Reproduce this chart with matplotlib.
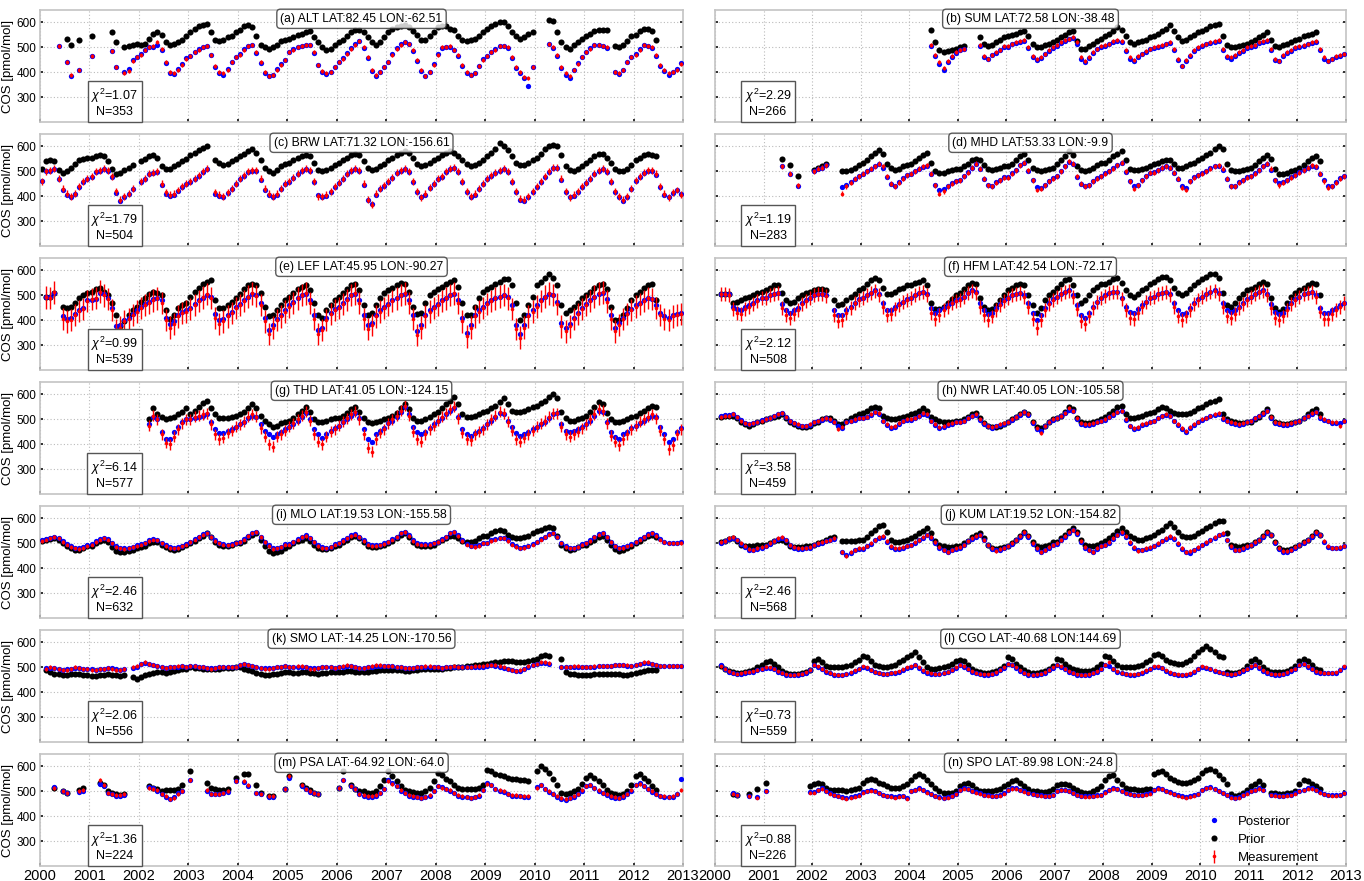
import numpy as np
import matplotlib.pyplot as plt

plt.rcParams['font.family'] = ['Liberation Sans', 'DejaVu Sans']
plt.rcParams['mathtext.fontset'] = 'custom'
plt.rcParams['mathtext.rm'] = 'Liberation Sans'
plt.rcParams['mathtext.it'] = 'Liberation Sans:italic'

nan = np.nan
# monthly time axis, 2000-01 .. 2012-12
months = 2000 + (np.arange(156) + 0.5) / 12
E6 = [nan] * 6
E12 = [nan] * 12

# ---------------- (a) ALT ----------------
ALT_meas = [
    nan, nan, nan, nan, 505, nan, 440, 390, nan, 410, nan, nan,
    465, nan, nan, nan, nan, 485, 420, nan, 395, 405, 445, 460,
    470, 490, 500, 505, 520, 495, 440, 400, 395, 410, 430, 455,
    465, 480, 490, 500, 505, 470, 425, 400, 395, 410, 440, 460,
    470, 490, 505, 510, 480, 440, 400, 385, 390, 410, 430, 450,
    480, 490, 500, 505, 510, 510, 480, 430, 405, 395, 400, 420,
    440, 455, 475, 495, 510, 525, 500, 460, 410, 390, 400, 420,
    440, 470, 495, 510, 520, 515, 490, 450, 410, 385, 400, 430,
    470, 500, 500, 505, 490, 470, 430, 400, 390, 395, 425, 450,
    465, 480, 490, 505, 505, 500, 460, 420, 400, 380, 375, 420,
    nan, nan, nan, 515, 500, 470, 420, 395, 385, 410, 435, 460,
    480, 495, 510, 510, 505, 500, nan, 400, 395, 410, 440, 460,
    470, 490, 510, 505, 500, 470, 430, 410, 395, 400, 410, 435]
ALT_post = [
    nan, nan, nan, nan, 505, nan, 440, 383, nan, 410, nan, nan,
    465, nan, nan, nan, nan, 485, 420, nan, 400, 412, 448, 460,
    472, 488, 500, 503, 510, 490, 438, 398, 393, 412, 432, 457,
    466, 482, 492, 502, 506, 468, 420, 395, 390, 412, 442, 462,
    472, 492, 506, 510, 478, 436, 396, 383, 388, 412, 432, 450,
    482, 492, 502, 505, 510, 508, 476, 428, 400, 392, 400, 422,
    442, 457, 477, 497, 512, 524, 498, 456, 406, 386, 402, 422,
    442, 472, 497, 512, 522, 514, 486, 446, 406, 383, 402, 432,
    472, 498, 500, 503, 488, 466, 426, 396, 388, 395, 427, 452,
    467, 482, 492, 505, 505, 498, 456, 416, 396, 378, 345, 422,
    nan, nan, nan, 513, 498, 466, 416, 390, 378, 410, 437, 460,
    482, 497, 510, 510, 505, 498, nan, 400, 393, 410, 442, 460,
    472, 492, 510, 505, 498, 466, 426, 406, 390, 400, 412, 437]
ALT_prior = [
    nan, nan, nan, nan, nan, nan, 535, 510, nan, 530, nan, nan,
    545, nan, nan, nan, nan, 560, 520, nan, 500, 505, 510, 515,
    510, 515, 535, 555, 560, 550, 520, 510, 515, 520, 530, 545,
    560, 575, 585, 590, 595, 560, 530, 525, 530, 540, 545, 560,
    570, 585, 590, 580, 545, 510, 500, 495, 500, 510, 525, 530,
    535, 540, 550, 555, 560, 565, 540, 520, 500, 490, 495, 510,
    520, 530, 545, 560, 570, 570, 560, 540, 520, 510, 520, 540,
    560, 575, 580, 585, 590, 580, 565, 550, 530, 530, 545, 560,
    580, 585, 585, 575, 570, 545, 530, 525, 530, 535, 545, 560,
    575, 585, 595, 600, 600, 585, 560, 545, 535, 540, 555, 560,
    nan, nan, nan, 610, 605, 560, 520, 500, 495, 510, 520, 535,
    545, 555, 565, 570, 570, 570, nan, 505, 500, 510, 525, 545,
    550, 565, 575, 575, 565, 530] + E6

# ---------------- (b) SUM ----------------
SUM_meas = E12 * 4 + [
    nan, nan, nan, nan, nan, 510, 470, 440, 415, 445, 465, 480,
    490, 495, nan, nan, nan, 510, 465, 455, 470, 480, 490, 505,
    505, 515, 520, 525, 530, 500, 465, 455, 460, 475, 490, 500,
    510, 520, 530, 535, 540, 520, 460, 445, 460, 480, 495, 505,
    510, 515, 525, 530, 525, 490, 460, 450, 465, 475, 485, 495,
    500, 505, 510, 515, 520, 495, 455, 425, 450, 470, 490, 500,
    510, 515, 520, 525, 530, 495, 465, 460, 470, 480, 490, 500,
    505, 510, 520, 525, 530, 495, 455, 445, 470, 480, 490, 500,
    505, 510, 515, 520, 525, 495, 460, 445, 455, 465, 470, 475]
SUM_post = E12 * 4 + [
    nan, nan, nan, nan, nan, 505, 465, 435, 410, 440, 462, 478,
    488, 493, nan, nan, nan, 506, 460, 452, 468, 478, 488, 502,
    503, 512, 517, 522, 527, 496, 460, 450, 456, 472, 487, 498,
    507, 517, 527, 532, 536, 515, 455, 440, 456, 477, 492, 502,
    507, 512, 522, 527, 522, 486, 455, 446, 462, 472, 482, 492,
    497, 502, 507, 512, 517, 490, 450, 425, 446, 467, 487, 497,
    507, 512, 517, 522, 527, 490, 460, 455, 466, 477, 487, 497,
    502, 507, 517, 522, 527, 490, 450, 446, 466, 477, 487, 497,
    502, 507, 512, 517, 522, 490, 455, 446, 452, 462, 467, 472]
SUM_prior = E12 * 4 + [
    nan, nan, nan, nan, nan, 570, 520, 490, 480, 485, 490, 495,
    500, 505, nan, nan, nan, 540, 515, 505, 510, 520, 530, 540,
    545, 550, 555, 560, 565, 545, 515, 500, 500, 510, 515, 520,
    530, 540, 550, 560, 565, 525, 495, 495, 505, 515, 525, 535,
    545, 555, 565, 580, 570, 545, 520, 515, 520, 525, 530, 540,
    545, 555, 565, 575, 590, 565, 540, 525, 530, 540, 550, 560,
    565, 575, 585, 590, 595, 545, 510, 500, 500, 505, 510, 515,
    520, 530, 540, 550, 560, 530, 505, 500, 510, 515, 520, 530,
    535, 545, 550, 555, 560] + [nan] * 7

# ---------------- (c) BRW ----------------
BRW_meas = [
    460, 500, 505, 510, 470, 430, 410, 400, 410, 440, 460, 470,
    480, 500, 505, 510, 505, 480, 420, 385, 400, 410, 430, nan,
    460, 470, 490, 495, 500, 450, 415, 405, 410, 425, 440, 450,
    460, 470, 485, 500, 510, nan, 415, 405, 400, 415, 430, 450,
    470, 485, 500, 505, 505, 470, 430, 410, 400, 410, 430, 450,
    460, 475, 490, 505, 510, 505, 460, 400, 400, 405, 420, 440,
    455, 470, 490, 505, 510, 505, 450, 385, 365, 410, 430, 445,
    460, 475, 495, 505, 510, 500, 460, 420, 395, 410, 435, 450,
    470, 480, 500, 510, 515, 500, 460, 420, 400, 410, 430, 450,
    470, 485, 495, 505, 510, 500, 460, 420, 390, 385, 400, 420,
    440, 460, 480, 500, 515, 515, 470, 420, 395, 405, 420, 440,
    455, 470, 490, 505, 510, 500, 460, 420, 400, 385, 400, 430,
    465, 480, 495, 505, 505, 490, 440, 410, 395, 415, 425, 405]
BRW_post = [
    460, 500, 503, 508, 468, 426, 406, 395, 408, 438, 458, 468,
    478, 498, 503, 508, 503, 476, 414, 380, 396, 408, 428, nan,
    458, 468, 488, 493, 498, 446, 410, 400, 406, 422, 438, 448,
    458, 468, 483, 498, 508, nan, 410, 400, 395, 412, 428, 448,
    468, 483, 498, 503, 503, 466, 426, 405, 395, 406, 428, 448,
    458, 473, 488, 503, 508, 502, 456, 405, 395, 400, 418, 438,
    453, 468, 488, 503, 508, 502, 446, 385, 370, 406, 428, 443,
    458, 473, 493, 503, 508, 497, 456, 415, 395, 406, 433, 448,
    468, 478, 498, 508, 513, 497, 456, 415, 395, 406, 428, 448,
    468, 483, 493, 503, 508, 497, 456, 415, 385, 380, 398, 418,
    438, 458, 478, 498, 513, 512, 466, 415, 395, 400, 418, 438,
    453, 468, 488, 503, 508, 497, 456, 415, 395, 380, 398, 428,
    463, 478, 493, 503, 503, 487, 436, 405, 395, 412, 423, 408]
BRW_prior = [
    510, 540, 545, 540, 505, 495, 500, 515, 530, 545, 550, 555,
    555, 560, 565, 560, 540, 510, 490, 495, 505, 515, 525, nan,
    540, 550, 560, 565, 555, 520, 510, 510, 520, 530, 540, 550,
    565, 575, 585, 595, 600, nan, 545, 535, 525, 530, 540, 550,
    560, 570, 580, 590, 575, 545, 515, 500, 495, 505, 520, 530,
    535, 545, 555, 560, 565, 560, 535, 505, 500, 505, 515, 525,
    535, 545, 555, 565, 570, 565, 540, 515, 505, 510, 520, 530,
    545, 555, 565, 575, 580, 575, 555, 530, 520, 525, 535, 545,
    555, 565, 575, 580, 575, 560, 545, 530, 520, 525, 535, 545,
    560, 575, 590, 615, 600, 585, 560, 535, 525, 525, 535, 545,
    555, 570, 590, 600, 605, 600, 565, 520, 505, 500, 510, 520,
    535, 545, 560, 570, 570, 555, 535, 510, 500, 500, 510, 525,
    545, 555, 565, 570, 565, 560] + E6

# ---------------- (d) MHD ----------------
MHD_meas = E12 + [
    nan, nan, nan, nan, 520, nan, 490, nan, 445, nan, nan, nan,
    500, 510, 515, 525, nan, nan, nan, 410, 440, 455, 470, 480,
    490, 500, 510, 520, 530, 520, 480, 450, 440, 455, 470, 485,
    490, 500, 510, 520, 525, 490, 445, 410, 420, 440, 450, 460,
    465, 480, 495, 515, 530, 510, 470, 445, 440, 455, 465, 475,
    475, 490, 505, 525, 535, 505, 465, 425, 430, 445, 460, 470,
    480, 500, 520, 540, 530, 480, 450, 440, 445, 460, 470, 480,
    490, 500, 510, 525, 535, 500, 460, 430, 445, 465, 480, 495,
    495, 505, 515, 520, 515, 495, 470, 435, 425, 460, 475, 485,
    490, 500, 510, 520, 525, 510, 470, 440, 440, 455, 465, 475,
    480, 490, 505, 520, 530, 510, 465, 445, 455, 465, 475, 485,
    495, 505, 515, 525, 520, 490, 460, 435, 440, 455, 470, 480]
MHD_post = E12 + [
    nan, nan, nan, nan, 523, nan, 488, nan, 442, nan, nan, nan,
    502, 510, 513, 525, nan, nan, nan, 437, 444, 456, 470, 480,
    490, 500, 510, 520, 528, 515, 478, 450, 442, 457, 472, 485,
    490, 500, 510, 518, 523, 488, 447, 425, 428, 442, 452, 462,
    467, 482, 497, 515, 528, 508, 468, 445, 442, 457, 467, 477,
    477, 492, 507, 525, 533, 502, 465, 438, 434, 447, 462, 472,
    482, 502, 520, 538, 528, 478, 450, 442, 447, 462, 472, 482,
    492, 502, 512, 525, 532, 497, 460, 443, 447, 467, 482, 495,
    497, 507, 515, 520, 515, 493, 468, 443, 435, 462, 477, 487,
    492, 502, 512, 520, 523, 507, 468, 442, 442, 457, 467, 477,
    482, 492, 507, 520, 528, 507, 465, 452, 457, 467, 477, 487,
    497, 507, 515, 523, 518, 488, 465, 443, 443, 457, 472, 482]
MHD_prior = E12 + [
    nan, nan, nan, nan, 550, nan, 525, nan, 480, nan, nan, nan,
    505, 515, 520, 530, nan, nan, nan, 500, 500, 505, 515, 525,
    535, 545, 560, 575, 585, 570, 530, 515, 505, 510, 520, 525,
    530, 540, 555, 565, 575, 535, 500, 495, 495, 500, 505, 510,
    510, 520, 530, 545, 550, 545, 525, 510, 505, 510, 515, 520,
    520, 530, 545, 560, 570, 545, 515, 505, 500, 505, 510, 515,
    530, 545, 560, 580, 565, 520, 505, 500, 505, 515, 525, 535,
    535, 545, 560, 570, 580, 545, 510, 505, 505, 510, 515, 520,
    530, 535, 540, 545, 545, 530, 515, 515, 520, 530, 535, 545,
    555, 565, 575, 590, 600, 590, 530, 505, 500, 500, 505, 510,
    515, 525, 540, 555, 565, 550, 510, 490, 490, 495, 500, 505,
    515, 525, 540, 555, 560, 540] + E6

# ---------------- (e) LEF ----------------
LEF_meas = [
    nan, 492, 490, 512, nan, 405, 395, 400, 420, 438, 445, 478,
    485, 490, 515, 500, 485, 440, 360, 370, 395, 405, 420, 435,
    450, 460, 470, 480, 488, 470, 400, 370, 385, 415, 430, 435,
    445, 460, 478, 492, 505, 490, 410, 385, 395, 415, 430, 450,
    460, 478, 495, 508, 498, 460, 395, 345, 370, 400, 415, 435,
    455, 470, 488, 502, 508, 470, 405, 345, 360, 400, 425, 440,
    450, 465, 482, 502, 508, 470, 405, 365, 380, 415, 435, 450,
    460, 478, 488, 502, 508, 470, 405, 340, 370, 415, 435, 450,
    460, 478, 488, 502, 508, 470, 395, 335, 370, 415, 435, 450,
    465, 478, 488, 495, 502, 488, 445, 365, 330, 370, 415, 435,
    455, 478, 495, 508, 502, 465, 375, 355, 375, 405, 425, 445,
    460, 478, 495, 508, 512, 475, 405, 355, 380, 405, 425, 440,
    455, 465, 478, 490, 485, 450, 420, 405, 400, 415, 420, 425]
LEF_post = [
    nan, 495, 495, 510, nan, 415, 405, 410, 425, 440, 450, 480,
    480, 485, 510, 505, 490, 450, 375, 380, 400, 410, 425, 440,
    455, 465, 475, 485, 490, 480, 410, 385, 395, 420, 435, 440,
    450, 465, 480, 490, 500, 495, 425, 400, 405, 420, 435, 455,
    465, 480, 495, 505, 500, 470, 410, 360, 380, 405, 420, 440,
    460, 475, 490, 500, 505, 480, 420, 360, 370, 410, 430, 445,
    455, 470, 485, 500, 505, 480, 420, 380, 390, 420, 440, 455,
    465, 480, 490, 500, 505, 480, 420, 355, 380, 420, 440, 455,
    465, 480, 490, 500, 505, 480, 410, 350, 380, 420, 440, 455,
    470, 480, 490, 495, 500, 495, 460, 380, 345, 380, 420, 440,
    460, 480, 495, 505, 500, 475, 390, 370, 385, 410, 430, 450,
    465, 480, 495, 505, 510, 485, 420, 370, 390, 410, 430, 445,
    460, 470, 480, 490, 485, 460, 430, 415, 410, 420, 425, 430]
LEF_prior = [
    nan, 495, 495, 510, nan, 455, 450, 455, 470, 490, 500, 510,
    515, 525, 530, 515, 500, 470, 420, 375, 395, 420, 440, 455,
    475, 490, 505, 515, 510, 500, 440, 405, 420, 450, 460, 470,
    495, 515, 530, 545, 555, 560, 480, 450, 450, 460, 475, 490,
    505, 525, 540, 545, 540, 510, 455, 415, 420, 440, 460, 480,
    495, 510, 525, 535, 540, 520, 470, 420, 410, 440, 460, 480,
    495, 510, 525, 540, 545, 520, 460, 420, 430, 460, 490, 510,
    520, 530, 540, 550, 545, 515, 455, 425, 430, 470, 500, 515,
    525, 535, 545, 555, 560, 535, 470, 420, 420, 455, 490, 515,
    525, 535, 545, 555, 565, 565, 540, 470, 400, 420, 460, 495,
    540, 555, 570, 585, 570, 540, 460, 430, 440, 455, 470, 490,
    500, 515, 530, 540, 545, 525, 455, 400, 400, 420, 450, 480,
    500, 515, 530, 540, 545, 480] + E6

# ---------------- (f) HFM ----------------
HFM_meas = [
    nan, 505, 505, 500, 445, 430, 425, 445, 455, 465, 478, 488,
    488, 500, 505, 508, 450, 420, 410, 425, 440, 465, 478, 488,
    500, 505, 505, 498, nan, 420, 395, 400, 430, 450, 468, 483,
    488, 500, 510, 518, 500, 455, 420, 425, 445, 460, 472, 483,
    488, 500, 510, 513, 500, 430, 405, 420, 440, 455, 468, 478,
    483, 495, 510, 518, 510, 455, 420, 400, 415, 440, 460, 478,
    488, 500, 505, 508, 495, 455, 405, 370, 400, 440, 465, 483,
    493, 505, 515, 518, 495, 445, 395, 385, 415, 448, 472, 488,
    498, 510, 515, 513, 485, 440, 410, 405, 430, 452, 472, 488,
    493, 505, 510, 513, 500, 455, 415, 400, 415, 442, 465, 483,
    493, 505, 515, 518, 505, 455, 415, 410, 425, 448, 465, 483,
    493, 505, 515, 518, 500, 450, 410, 400, 415, 442, 465, 483,
    493, 505, 510, 513, 495, 435, 405, 405, 425, 442, 455, 468]
HFM_post = [
    nan, 505, 505, 505, 455, 445, 440, 455, 460, 470, 480, 490,
    490, 500, 505, 510, 465, 440, 430, 440, 450, 470, 480, 490,
    500, 505, 505, 500, nan, 440, 420, 420, 440, 455, 470, 485,
    490, 500, 510, 520, 505, 470, 440, 440, 455, 465, 475, 485,
    490, 500, 510, 515, 505, 450, 430, 440, 450, 460, 470, 480,
    485, 495, 510, 520, 515, 470, 440, 425, 430, 450, 465, 480,
    490, 500, 505, 510, 500, 470, 430, 400, 420, 450, 470, 485,
    495, 505, 515, 520, 500, 460, 420, 410, 430, 455, 475, 490,
    500, 510, 515, 515, 490, 455, 435, 430, 445, 460, 475, 490,
    495, 505, 510, 515, 505, 470, 440, 425, 430, 450, 470, 485,
    495, 505, 515, 520, 510, 470, 440, 435, 440, 455, 470, 485,
    495, 505, 515, 520, 505, 465, 435, 425, 430, 450, 470, 485,
    495, 505, 510, 515, 500, 450, 430, 430, 440, 450, 460, 470]
HFM_prior = [
    nan, 505, 505, 505, 470, 475, 480, 490, 495, 500, 510, 515,
    520, 530, 540, 540, 510, 480, 470, 475, 490, 500, 510, 515,
    520, 525, 525, 520, nan, 480, 460, 465, 480, 495, 505, 520,
    530, 545, 560, 570, 560, 530, 505, 505, 515, 525, 530, 540,
    540, 550, 555, 560, 540, 470, 445, 445, 455, 470, 485, 500,
    510, 525, 540, 550, 545, 490, 455, 440, 445, 460, 480, 500,
    520, 530, 540, 545, 540, 500, 460, 430, 450, 480, 500, 515,
    530, 545, 560, 565, 540, 500, 470, 480, 500, 520, 535, 545,
    545, 555, 565, 570, 550, 520, 500, 495, 505, 520, 530, 545,
    555, 565, 575, 575, 560, 530, 510, 500, 510, 525, 540, 555,
    565, 575, 585, 585, 570, 510, 460, 455, 470, 490, 505, 520,
    525, 535, 545, 555, 545, 490, 450, 435, 445, 470, 495, 510,
    520, 530, 540, 550, 545, 500] + E6

# ---------------- (g) THD ----------------
THD_meas = E12 * 2 + [
    nan, nan, 475, 515, 500, 440, 405, 400, 430, 460, 485, 500,
    500, 510, 515, 520, 525, 480, 440, 420, 425, 445, 455, 470,
    480, 490, 510, 520, 510, 465, 430, 400, 390, 430, 440, 455,
    470, 485, 500, 515, 530, 495, 440, 410, 400, 430, 450, 460,
    475, 490, 505, 520, 530, 500, 440, 385, 370, 420, 445, 460,
    485, 500, 515, 535, 555, 515, 450, 420, 410, 440, 460, 475,
    495, 510, 525, 540, 550, 505, 445, 420, 415, 440, 450, 460,
    480, 500, 515, 530, 525, 490, 455, 420, 410, 425, 440, 455,
    470, 485, 495, 510, 525, 525, 470, 440, 430, 440, 450, 465,
    480, 500, 520, 540, 535, 485, 435, 410, 395, 420, 440, 460,
    475, 490, 500, 510, 520, 505, 455, 420, 380, 395, 440, 460]
THD_post = E12 * 2 + [
    nan, nan, 480, 510, 500, 450, 420, 420, 450, 470, 490, 500,
    500, 505, 510, 515, 520, 490, 460, 445, 445, 455, 460, 470,
    480, 490, 505, 515, 510, 480, 455, 440, 430, 440, 450, 460,
    470, 480, 495, 510, 525, 500, 460, 440, 425, 440, 455, 465,
    475, 490, 500, 515, 525, 505, 460, 420, 410, 440, 455, 465,
    485, 495, 510, 530, 550, 520, 470, 450, 440, 450, 465, 480,
    495, 505, 520, 535, 545, 510, 460, 440, 435, 445, 455, 465,
    480, 495, 510, 525, 520, 495, 470, 445, 435, 440, 450, 460,
    470, 480, 490, 505, 520, 525, 480, 455, 450, 455, 460, 470,
    480, 495, 515, 535, 530, 490, 450, 430, 420, 440, 450, 465,
    475, 485, 495, 505, 515, 510, 470, 440, 410, 420, 450, 465]
THD_prior = E12 * 2 + [
    nan, nan, 500, 545, 520, 510, 500, 505, 510, 520, 530, 545,
    520, 535, 550, 565, 575, 545, 520, 505, 505, 505, 510, 515,
    520, 530, 545, 560, 545, 515, 495, 480, 470, 475, 485, 490,
    495, 505, 520, 535, 550, 530, 500, 490, 490, 495, 500, 505,
    505, 515, 525, 540, 550, 530, 505, 490, 485, 490, 495, 500,
    505, 515, 525, 545, 560, 540, 505, 495, 495, 500, 510, 520,
    530, 545, 560, 575, 590, 560, 520, 510, 510, 515, 520, 530,
    535, 545, 555, 570, 585, 560, 535, 530, 530, 535, 540, 550,
    555, 565, 575, 590, 600, 585, 530, 505, 495, 495, 500, 505,
    515, 530, 550, 570, 560, 525, 500, 490, 490, 495, 500, 510,
    515, 525, 535, 545, 555, 550] + E6

# ---------------- (h) NWR ----------------
NWR_meas = [
    nan, 510, 515, 515, 520, 510, 495, 485, 480, 485, 490, 495,
    500, 505, 515, 520, 525, 510, 495, 485, 480, 475, 475, 480,
    490, 495, 500, 505, 500, 490, 460, 470, 490, 495, 500, 505,
    505, 510, 520, 530, 525, 495, 480, 470, 475, 485, 495, 500,
    500, 505, 515, 525, 520, 495, 480, 470, 475, 480, 485, 490,
    490, 495, 505, 515, 520, 500, 485, 475, 470, 475, 480, 485,
    490, 500, 510, 520, 530, 520, 490, 465, 445, 475, 490, 500,
    505, 515, 525, 545, 535, 505, 485, 480, 480, 485, 490, 495,
    500, 510, 520, 530, 535, 500, 475, 465, 470, 480, 485, 490,
    495, 505, 515, 520, 515, 495, 480, 465, 455, 470, 480, 490,
    500, 505, 515, 520, 525, 505, 495, 490, 485, 480, 485, 490,
    495, 505, 515, 525, 535, 510, 490, 485, 480, 480, 485, 490,
    495, 505, 515, 525, 530, 510, 500, 495, 490, 490, 475, 495]
NWR_post = [
    nan, 512, 516, 517, 521, 510, 496, 486, 481, 486, 491, 496,
    501, 506, 515, 520, 524, 509, 494, 484, 479, 474, 474, 479,
    489, 494, 499, 504, 499, 489, 472, 466, 488, 494, 499, 504,
    504, 509, 519, 528, 523, 493, 477, 466, 471, 482, 492, 498,
    499, 504, 514, 523, 518, 492, 477, 466, 471, 477, 483, 488,
    488, 494, 504, 514, 518, 498, 482, 472, 467, 472, 477, 483,
    489, 499, 509, 519, 528, 517, 486, 460, 455, 472, 488, 499,
    504, 514, 524, 538, 533, 502, 482, 477, 477, 482, 488, 493,
    499, 509, 519, 528, 533, 497, 472, 460, 466, 477, 483, 488,
    494, 504, 514, 518, 513, 492, 477, 460, 450, 466, 477, 488,
    499, 504, 514, 518, 523, 502, 492, 486, 482, 477, 483, 488,
    494, 504, 514, 523, 532, 507, 487, 482, 477, 477, 483, 488,
    494, 504, 514, 523, 528, 507, 497, 492, 487, 487, 487, 492]
NWR_prior = [
    nan, 510, 515, 515, 515, 505, 490, 480, 475, 480, 490, 495,
    500, 505, 510, 515, 520, 505, 490, 480, 475, 470, 470, 475,
    485, 490, 500, 505, 505, 495, 480, 480, 495, 505, 515, 520,
    525, 535, 545, 550, 545, 515, 505, 500, 500, 505, 510, 515,
    520, 525, 535, 545, 535, 510, 500, 495, 490, 490, 490, 495,
    495, 500, 510, 520, 525, 505, 485, 475, 470, 470, 475, 480,
    490, 500, 510, 520, 530, 520, 490, 470, 465, 475, 490, 500,
    505, 515, 530, 550, 540, 505, 490, 485, 485, 490, 495, 500,
    510, 520, 535, 550, 555, 520, 505, 505, 510, 515, 520, 525,
    530, 540, 550, 545, 535, 525, 520, 520, 520, 525, 535, 545,
    550, 560, 570, 575, 580, 520, 500, 495, 490, 485, 485, 490,
    490, 500, 510, 525, 540, 510, 490, 485, 480, 480, 485, 490,
    495, 505, 520, 535, 540, 520] + E6

# ---------------- (i) MLO ----------------
MLO_meas = [
    510, 515, 520, 525, 520, 505, 495, 485, 480, 478, 482, 490,
    495, 505, 515, 520, 515, 500, 485, 480, 478, 480, 485, 490,
    495, 500, 510, 515, 512, 500, 490, 482, 480, 482, 488, 495,
    505, 515, 525, 535, 540, 525, 510, 500, 495, 492, 495, 500,
    505, 515, 530, 540, 545, 525, 505, 490, 478, 480, 485, 495,
    495, 505, 515, 525, 530, 520, 505, 490, 482, 480, 485, 495,
    500, 510, 520, 530, 535, 525, 510, 495, 490, 490, 492, 498,
    505, 515, 525, 540, 545, 530, 510, 498, 495, 495, 495, 500,
    505, 515, 525, 540, 545, 530, 510, 495, 488, 485, 490, 500,
    500, 510, 515, 520, 520, 510, 495, 485, 480, 482, 488, 495,
    505, 515, 525, 535, 540, 525, 500, 485, 480, 480, 485, 495,
    500, 510, 525, 535, 540, 525, 505, 488, 480, 482, 488, 495,
    505, 515, 525, 535, 540, 530, 515, 505, 500, 500, 500, 502]
MLO_post = [
    512, 518, 522, 526, 522, 508, 498, 488, 482, 480, 484, 492,
    498, 508, 517, 522, 517, 503, 488, 482, 480, 482, 487, 492,
    498, 503, 512, 517, 514, 503, 492, 485, 483, 485, 490, 497,
    507, 517, 527, 536, 540, 527, 512, 502, 497, 495, 497, 502,
    507, 517, 531, 540, 544, 527, 507, 492, 481, 482, 487, 497,
    497, 507, 517, 527, 532, 522, 507, 492, 485, 483, 487, 497,
    502, 512, 522, 532, 537, 527, 512, 497, 492, 492, 494, 500,
    507, 517, 527, 541, 545, 532, 512, 500, 497, 497, 497, 502,
    507, 517, 527, 540, 544, 532, 512, 498, 490, 488, 492, 502,
    502, 512, 517, 522, 522, 512, 497, 488, 483, 485, 490, 497,
    507, 517, 527, 536, 540, 527, 502, 488, 483, 483, 487, 497,
    502, 512, 527, 537, 541, 527, 507, 490, 483, 485, 490, 497,
    507, 517, 527, 537, 541, 532, 517, 507, 502, 502, 502, 504]
MLO_prior = [
    510, 512, 518, 520, 515, 500, 490, 480, 475, 475, 480, 488,
    490, 500, 510, 515, 505, 485, 470, 465, 465, 470, 475, 480,
    485, 490, 500, 505, 505, 495, 485, 478, 475, 478, 485, 492,
    500, 510, 520, 530, 540, 525, 505, 495, 490, 490, 495, 500,
    500, 510, 525, 535, 540, 515, 490, 470, 462, 465, 470, 480,
    490, 500, 510, 515, 520, 510, 495, 482, 478, 476, 480, 488,
    495, 505, 515, 525, 530, 520, 505, 490, 485, 485, 488, 495,
    500, 510, 520, 535, 540, 525, 505, 492, 490, 490, 490, 495,
    505, 515, 520, 530, 530, 520, 510, 505, 505, 510, 520, 530,
    530, 540, 550, 555, 550, 535, 525, 520, 520, 525, 530, 540,
    550, 555, 560, 565, 560, 530, 495, 480, 475, 478, 485, 495,
    495, 505, 515, 525, 530, 515, 495, 478, 470, 472, 480, 490,
    500, 510, 520, 530, 535, 525] + E6

# ---------------- (j) KUM ----------------
KUM_meas = [
    nan, 505, 510, 520, 525, 515, 500, 488, 478, 475, 480, 485,
    490, 500, 510, 520, 525, 515, 495, 485, 480, 480, 482, 485,
    495, 500, 505, 510, 515, 520, nan, 465, 450, 465, 475, 480,
    480, 490, 500, 515, 525, 530, 510, 490, 480, 480, 485, 490,
    495, 505, 515, 525, 535, 525, 505, 485, 475, 465, 475, 480,
    485, 495, 510, 520, 530, 535, 515, 495, 480, 470, 478, 482,
    490, 500, 515, 530, 545, 530, 500, 480, 465, 475, 485, 495,
    500, 515, 530, 545, 555, 540, 510, 485, 475, 465, 480, 490,
    495, 505, 520, 535, 545, 530, 505, 485, 470, 475, 480, 485,
    490, 500, 510, 520, 530, 520, 500, 480, 465, 468, 475, 485,
    495, 505, 515, 525, 535, 540, 515, 490, 475, 475, 480, 488,
    495, 505, 515, 530, 545, 535, 505, 480, 470, 470, 475, 485,
    495, 505, 515, 530, 545, 535, 510, 490, 482, 482, 485, 490]
KUM_post = [
    nan, 503, 508, 517, 522, 512, 497, 485, 475, 472, 477, 483,
    488, 498, 508, 517, 522, 512, 492, 482, 477, 477, 480, 483,
    493, 498, 503, 508, 513, 517, nan, 465, 455, 462, 472, 478,
    478, 488, 498, 512, 522, 527, 507, 487, 477, 477, 482, 488,
    493, 503, 513, 522, 532, 522, 502, 482, 472, 467, 472, 478,
    483, 493, 508, 517, 527, 532, 512, 492, 477, 472, 475, 480,
    488, 498, 513, 527, 542, 527, 497, 477, 467, 472, 482, 493,
    498, 513, 527, 542, 552, 537, 507, 482, 472, 467, 477, 488,
    493, 503, 517, 532, 542, 527, 502, 482, 472, 472, 477, 483,
    488, 498, 508, 517, 527, 517, 497, 477, 465, 463, 472, 483,
    493, 503, 513, 522, 532, 537, 512, 487, 475, 472, 477, 486,
    493, 503, 513, 527, 542, 532, 502, 477, 467, 467, 472, 483,
    493, 503, 513, 527, 542, 532, 507, 487, 480, 480, 483, 488]
KUM_prior = [
    nan, 505, 510, 518, 522, 510, 495, 490, 490, 490, 492, 495,
    495, 500, 510, 515, 515, 505, 490, 485, 485, 485, 488, 490,
    495, 500, 505, 515, 520, 525, nan, 510, 510, 510, 510, 512,
    515, 525, 540, 555, 570, 575, 545, 515, 505, 505, 510, 515,
    520, 530, 540, 550, 560, 540, 510, 495, 488, 485, 485, 488,
    490, 500, 510, 525, 535, 540, 520, 495, 480, 478, 480, 485,
    490, 500, 515, 530, 545, 530, 505, 490, 485, 490, 495, 505,
    505, 520, 535, 550, 560, 545, 515, 495, 490, 490, 495, 500,
    510, 520, 535, 550, 560, 545, 530, 520, 515, 515, 520, 525,
    535, 545, 555, 570, 580, 565, 545, 530, 525, 525, 530, 540,
    550, 560, 570, 580, 590, 590, 540, 495, 488, 485, 488, 492,
    495, 505, 515, 530, 545, 535, 505, 482, 472, 472, 478, 485,
    495, 505, 515, 530, 545, 535] + E6

# ---------------- (k) SMO ----------------
SMO_meas = [
    nan, 495, 500, 498, 492, 488, 490, 495, 500, 498, 495, 492,
    490, 488, 492, 495, 498, 495, 490, 488, 495, nan, 500, 505,
    515, 520, 515, 510, 505, 500, 498, 500, 502, 505, 505, 503,
    505, 505, 502, 500, 498, 495, 497, 500, 502, 503, 500, 500,
    510, 515, 510, 505, 500, 498, 495, 495, 498, 500, 503, 505,
    500, 502, 505, 505, 500, 495, 495, 498, 500, 502, 500, 498,
    500, 505, 508, 505, 500, 498, 497, 500, 505, 508, 510, 505,
    505, 505, 503, 500, 498, 497, 498, 500, 502, 505, 505, 503,
    500, 498, 500, 503, 505, 502, 500, 500, 502, 505, 505, 505,
    508, 510, 510, 505, 500, 495, 490, 485, 488, 495, 505, 510,
    515, 520, 520, 518, nan, nan, 500, 500, 502, 505, 505, 502,
    500, 502, 505, 505, 505, 505, 505, 508, 510, 510, 508, 505,
    510, 515, 520, 520, 515, 510, 505, 505, 505, 505, 505, 505]
SMO_post = [
    nan, 497, 498, 496, 494, 490, 492, 494, 498, 497, 494, 493,
    492, 490, 493, 494, 497, 496, 492, 490, 494, nan, 498, 503,
    512, 518, 514, 509, 505, 501, 499, 500, 501, 503, 504, 503,
    504, 504, 502, 500, 499, 497, 498, 500, 501, 502, 500, 500,
    508, 512, 509, 505, 501, 499, 497, 497, 499, 500, 502, 504,
    500, 501, 503, 503, 500, 497, 497, 498, 500, 501, 500, 499,
    500, 503, 506, 504, 500, 499, 498, 500, 503, 506, 507, 504,
    504, 504, 502, 500, 499, 498, 499, 500, 501, 503, 503, 502,
    500, 499, 500, 502, 503, 501, 500, 500, 501, 503, 503, 503,
    506, 508, 507, 503, 499, 494, 489, 485, 487, 494, 503, 508,
    512, 516, 517, 515, nan, nan, 500, 500, 501, 503, 503, 501,
    500, 501, 503, 504, 505, 505, 506, 508, 509, 509, 507, 505,
    509, 513, 517, 517, 513, 509, 505, 505, 505, 505, 505, 505]
SMO_prior = [
    nan, 490, 480, 475, 472, 470, 470, 472, 475, 475, 470, 468,
    465, 465, 468, 470, 472, 470, 468, 465, 470, nan, 460, 455,
    460, 470, 475, 478, 480, 480, 478, 480, 485, 490, 495, 495,
    500, 498, 497, 495, 493, 492, 493, 495, 497, 498, 498, 500,
    500, 495, 490, 485, 478, 472, 470, 470, 472, 475, 478, 480,
    480, 478, 478, 480, 480, 478, 476, 475, 477, 478, 480, 480,
    482, 482, 485, 485, 483, 480, 480, 482, 485, 487, 488, 488,
    490, 490, 490, 488, 487, 487, 488, 490, 492, 492, 493, 495,
    495, 495, 497, 498, 500, 500, 502, 505, 505, 508, 510, 512,
    515, 518, 520, 522, 525, 525, 525, 522, 520, 520, 525, 530,
    535, 545, 550, 545, nan, nan, 535, 480, 475, 472, 470, 470,
    470, 470, 472, 475, 475, 475, 475, 475, 473, 470, 470, 472,
    478, 480, 485, 488, 490, 488] + E6

# ---------------- (l) CGO ----------------
CGO_meas = [
    nan, 505, 495, 485, 478, 475, 477, 480, 482, 485, 490, 495,
    500, 500, 495, 485, 478, 472, 470, 470, 472, 475, 480, 490,
    510, 505, 495, 485, 478, 472, 470, 470, 475, 480, 488, 495,
    505, 500, 490, 482, 478, 475, 475, 478, 480, 485, 492, 500,
    505, 510, 500, 488, 480, 477, 475, 475, 478, 482, 490, 500,
    510, 505, 495, 485, 478, 475, 473, 473, 475, 480, 490, 500,
    515, 510, 500, 488, 478, 472, 470, 472, 475, 480, 490, 500,
    510, 505, 495, 485, 478, 473, 470, 470, 473, 478, 485, 495,
    510, 520, 495, 485, 478, 475, 473, 472, 475, 480, 488, 495,
    505, 505, 498, 488, 480, 475, 472, 470, 472, 477, 485, 495,
    505, 500, 495, 488, 482, 478, 475, 473, 475, 480, 488, 495,
    505, 510, 500, 488, 480, 475, 472, 472, 475, 480, 488, 495,
    510, 515, 505, 495, 485, 480, 478, 478, 478, 480, 490, 505]
CGO_post = [
    nan, 508, 493, 482, 476, 473, 475, 478, 480, 483, 488, 494,
    499, 499, 493, 483, 476, 470, 468, 468, 470, 473, 478, 488,
    508, 503, 493, 483, 476, 470, 468, 468, 473, 478, 486, 493,
    503, 498, 488, 480, 476, 473, 473, 476, 478, 483, 490, 498,
    503, 508, 498, 486, 478, 475, 473, 473, 476, 480, 488, 498,
    508, 503, 493, 483, 476, 473, 471, 471, 473, 478, 488, 498,
    513, 508, 498, 486, 476, 470, 468, 470, 473, 478, 488, 498,
    508, 503, 493, 483, 476, 471, 468, 468, 471, 476, 483, 493,
    508, 506, 493, 483, 476, 473, 471, 470, 473, 478, 486, 493,
    503, 503, 496, 486, 478, 473, 470, 468, 470, 475, 483, 493,
    503, 498, 493, 486, 480, 476, 473, 471, 473, 478, 486, 493,
    503, 508, 498, 486, 478, 473, 470, 470, 473, 478, 486, 493,
    508, 513, 503, 493, 483, 478, 476, 476, 476, 478, 488, 503]
CGO_prior = [
    nan, 505, 495, 485, 480, 478, 478, 480, 485, 490, 500, 510,
    520, 525, 515, 500, 485, 478, 475, 475, 475, 478, 482, 490,
    525, 535, 520, 505, 500, 500, 502, 503, 505, 510, 520, 530,
    545, 540, 525, 510, 505, 503, 503, 505, 510, 520, 530, 540,
    550, 560, 540, 520, 500, 495, 495, 497, 500, 505, 515, 525,
    530, 525, 510, 495, 485, 480, 478, 478, 480, 485, 495, 505,
    540, 535, 515, 500, 488, 480, 478, 478, 480, 485, 495, 505,
    535, 530, 515, 500, 492, 488, 485, 485, 487, 490, 500, 515,
    545, 540, 525, 510, 503, 500, 500, 502, 505, 510, 520, 530,
    550, 555, 545, 530, 520, 517, 515, 515, 520, 530, 545, 560,
    575, 585, 575, 560, 545, 540, 480, 478, 478, 482, 490, 505,
    525, 535, 520, 500, 488, 482, 480, 480, 482, 485, 492, 505,
    525, 535, 525, 510, 495, 490] + E6

# ---------------- (m) PSA ----------------
PSA_meas = [
    nan, nan, nan, 515, nan, 500, 495, nan, nan, 500, 505, nan,
    nan, nan, 545, 525, 495, 490, 485, 485, 488, nan, nan, nan,
    nan, nan, 515, 510, 505, 490, 480, 470, 475, 490, 500, nan,
    545, nan, nan, nan, 505, 490, 490, 490, 495, 500, nan, 540,
    nan, 540, 525, nan, 495, 490, nan, 480, 480, nan, nan, 510,
    560, nan, nan, 525, 510, 500, 495, 490, nan, nan, nan, nan,
    515, 545, nan, 520, 510, 490, 485, 480, 480, 485, 495, 510,
    540, 530, 520, 505, 495, 485, 480, 478, 475, 478, 485, 500,
    520, 515, 510, 505, 495, 485, 480, 478, 475, 478, 485, 505,
    530, 525, 510, 505, 500, 490, 485, 485, 482, 480, 480, nan,
    515, 525, 510, 500, 490, 480, 472, 470, 475, 480, 490, 505,
    520, 525, 515, 505, 495, 488, 480, 477, 475, 480, 490, 505,
    525, 530, 520, 510, 500, 490, 482, 480, 478, 480, 490, 505]
PSA_post = [
    nan, nan, nan, 517, nan, 502, 493, nan, nan, 498, 503, nan,
    nan, nan, 530, 522, 493, 488, 483, 483, 486, nan, nan, nan,
    nan, nan, 517, 512, 503, 488, 478, 470, 477, 492, 502, nan,
    545, nan, nan, nan, 503, 488, 488, 488, 493, 498, nan, 540,
    nan, 538, 523, nan, 493, 488, nan, 478, 478, nan, nan, 510,
    553, nan, nan, 523, 508, 498, 493, 488, nan, nan, nan, nan,
    515, 545, nan, 522, 508, 488, 483, 478, 478, 483, 493, 510,
    545, 532, 520, 503, 493, 483, 478, 476, 473, 476, 483, 502,
    522, 516, 510, 503, 493, 483, 478, 476, 473, 476, 483, 507,
    532, 526, 510, 503, 498, 488, 483, 483, 480, 478, 478, nan,
    517, 527, 510, 498, 488, 478, 468, 466, 472, 478, 488, 503,
    522, 527, 515, 503, 493, 486, 478, 475, 473, 478, 488, 503,
    527, 532, 520, 508, 498, 488, 480, 478, 476, 478, 488, 548]
PSA_prior = [
    nan, nan, nan, 515, nan, 500, 495, nan, nan, 505, 515, nan,
    nan, nan, 535, 525, 500, 492, 488, 487, 490, nan, nan, nan,
    nan, nan, 520, 515, 510, 500, 505, 505, 505, 510, 525, nan,
    580, nan, nan, nan, 535, 515, 510, 505, 505, 510, nan, 555,
    nan, 570, 570, nan, 525, 495, nan, 482, 480, nan, nan, 510,
    560, nan, nan, 525, 515, 505, 495, 490, nan, nan, nan, nan,
    515, 580, nan, 525, 510, 500, 500, 495, 495, 500, 520, 545,
    580, 560, 540, 520, 505, 500, 498, 495, 495, 500, 515, 540,
    575, 565, 550, 540, 525, 512, 510, 508, 508, 510, 515, 525,
    585, 580, 570, 565, 560, 555, 550, 548, 545, 545, 540, nan,
    580, 600, 590, 575, 550, 525, 495, 490, 492, 500, 510, 530,
    555, 565, 555, 540, 525, 505, 495, 488, 485, 490, 500, 525,
    560, 570, 555, 540, 520, 505] + E6

# ---------------- (n) SPO ----------------
SPO_meas = [
    nan, nan, nan, nan, 490, 485, nan, nan, 480, nan, 475, nan,
    500, nan, nan, nan, nan, nan, nan, nan, nan, nan, nan, 495,
    495, 505, 510, 500, 490, 485, 480, 475, 470, 475, 478, 482,
    495, 500, 502, 500, 492, 485, 480, 478, 475, 478, 480, 470,
    500, 505, 510, 505, 495, 488, 480, 475, 472, 475, 480, 488,
    505, 510, 508, 500, 495, 490, 485, 482, 480, 480, 482, 490,
    505, 510, 510, 505, 498, 492, 488, 485, 482, 480, 480, 485,
    500, 505, 505, 500, 492, 485, 480, 478, 478, 480, 482, 485,
    495, 505, 510, 508, 500, 492, 488, 485, 485, 485, 487, 490,
    505, 510, 508, 500, 495, 488, 482, 478, 475, 478, 482, 488,
    505, 512, 515, 508, 500, 492, 485, 475, 472, 475, 485, 490,
    500, 505, 510, 505, nan, 485, 482, 480, 480, 482, 485, 490,
    500, 505, 510, 510, 505, 495, 488, 485, 482, 482, 485, 492]
SPO_post = [
    nan, nan, nan, nan, 492, 487, nan, nan, 482, nan, 477, nan,
    502, nan, nan, nan, nan, nan, nan, nan, nan, nan, nan, 497,
    497, 507, 512, 502, 492, 487, 482, 477, 472, 477, 480, 484,
    497, 502, 504, 502, 494, 487, 482, 480, 477, 480, 482, 472,
    502, 507, 512, 507, 497, 490, 482, 477, 474, 477, 482, 490,
    507, 512, 510, 502, 497, 492, 487, 484, 482, 482, 484, 492,
    507, 512, 512, 507, 500, 494, 490, 487, 484, 482, 482, 487,
    502, 507, 507, 502, 494, 487, 482, 480, 480, 482, 484, 487,
    497, 507, 512, 510, 502, 494, 490, 487, 487, 487, 489, 492,
    507, 512, 510, 502, 497, 490, 484, 480, 477, 480, 484, 490,
    507, 514, 517, 510, 502, 494, 487, 477, 474, 477, 487, 492,
    502, 507, 512, 507, nan, 487, 484, 482, 482, 484, 487, 492,
    502, 507, 512, 512, 507, 497, 490, 487, 484, 484, 487, 494]
SPO_prior = [
    nan, nan, nan, nan, 490, 485, nan, nan, 490, nan, 510, nan,
    535, nan, nan, nan, nan, nan, nan, nan, nan, nan, nan, 520,
    530, 535, 530, 515, 505, 505, 505, 505, 500, 505, 510, 515,
    535, 545, 550, 545, 535, 530, 520, 515, 512, 515, 520, 530,
    545, 560, 570, 560, 545, 530, 515, 500, 495, 492, 495, 500,
    520, 530, 535, 525, 510, 500, 500, 500, 502, 505, 510, 520,
    530, 540, 545, 535, 520, 508, 502, 500, 498, 496, 500, 510,
    525, 530, 530, 525, 515, 505, 498, 495, 495, 500, 510, 520,
    545, 560, 565, 545, 530, 515, 510, 508, 505, 505, 508, 510,
    570, 578, 580, 570, 555, 545, 538, 535, 535, 538, 545, 555,
    575, 585, 590, 580, 565, 548, 530, 490, 480, 485, 495, 505,
    520, 530, 540, 525, nan, 495, 492, 490, 490, 492, 495, 500,
    530, 545, 540, 530, 520, 510] + E6

titles = [
    "(a) ALT LAT:82.45 LON:-62.51", "(b) SUM LAT:72.58 LON:-38.48",
    "(c) BRW LAT:71.32 LON:-156.61", "(d) MHD LAT:53.33 LON:-9.9",
    "(e) LEF LAT:45.95 LON:-90.27", "(f) HFM LAT:42.54 LON:-72.17",
    "(g) THD LAT:41.05 LON:-124.15", "(h) NWR LAT:40.05 LON:-105.58",
    "(i) MLO LAT:19.53 LON:-155.58", "(j) KUM LAT:19.52 LON:-154.82",
    "(k) SMO LAT:-14.25 LON:-170.56", "(l) CGO LAT:-40.68 LON:144.69",
    "(m) PSA LAT:-64.92 LON:-64.0", "(n) SPO LAT:-89.98 LON:-24.8",
]
chi2 = [1.07, 2.29, 1.79, 1.19, 0.99, 2.12, 6.14, 3.58, 2.46, 2.46, 2.06, 0.73, 1.36, 0.88]
nobs = [353, 266, 504, 283, 539, 508, 577, 459, 632, 568, 556, 559, 224, 226]
sigma = [8, 8, 14, 10, 45, 28, 22, 8, 7, 8, 8, 6, 8, 6]

measurements = [ALT_meas, SUM_meas, BRW_meas, MHD_meas, LEF_meas, HFM_meas, THD_meas,
                NWR_meas, MLO_meas, KUM_meas, SMO_meas, CGO_meas, PSA_meas, SPO_meas]
posteriors = [ALT_post, SUM_post, BRW_post, MHD_post, LEF_post, HFM_post, THD_post,
              NWR_post, MLO_post, KUM_post, SMO_post, CGO_post, PSA_post, SPO_post]
priors = [ALT_prior, SUM_prior, BRW_prior, MHD_prior, LEF_prior, HFM_prior, THD_prior,
          NWR_prior, MLO_prior, KUM_prior, SMO_prior, CGO_prior, PSA_prior, SPO_prior]


def as_series(values):
    out = np.full(len(months), np.nan)
    v = np.asarray(values, dtype=float)[:len(months)]
    out[:len(v)] = v
    return out


W, H = 1364, 881
fig = plt.figure(figsize=(W / 100, H / 100), dpi=100)

for i in range(14):
    row, col = divmod(i, 2)
    x0, wid = (40, 643) if col == 0 else (715, 631)
    top = 10 + 124 * row
    ax = fig.add_axes([x0 / W, 1 - (top + 112) / H, wid / W, 112 / H])

    meas = as_series(measurements[i])
    post = as_series(posteriors[i])
    prior = as_series(priors[i])

    ax.plot(months, post, 'o', color='blue', ms=3.8, mec='none', label='Posterior', zorder=3)
    ax.plot(months, prior, 'o', color='black', ms=4.4, mec='none', label='Prior', zorder=2)
    ax.errorbar(months, meas, yerr=sigma[i], fmt='o', ms=2.6, color='red', mec='none',
                ecolor='red', elinewidth=1.0, capsize=0, label='Measurement', zorder=4)

    ax.set_xlim(2000, 2013)
    ax.set_ylim(200, 650)
    ax.set_xticks(range(2000, 2014))
    ax.set_yticks([300, 400, 500, 600])
    ax.grid(True, ls=(0, (1, 2)), color='#bbbbbb', lw=0.8)
    ax.set_axisbelow(True)
    for s in ax.spines.values():
        s.set_color('#c4c4c4')
        s.set_linewidth(1.2)
    ax.tick_params(axis='both', direction='in', length=2.5, width=1.3, color='#222222',
                   right=True, top=False, pad=2.5)
    ax.tick_params(axis='x', labelsize=10.5)
    ax.tick_params(axis='y', labelsize=8.5)

    if col == 0:
        ax.set_ylabel('COS [pmol/mol]', fontsize=9.5, labelpad=2)
    else:
        ax.tick_params(axis='y', labelleft=False)
    if row < 6:
        ax.tick_params(axis='x', labelbottom=False)

    ax.text(0.5, 0.975, titles[i], transform=ax.transAxes, ha='center', va='top',
            fontsize=8.7, zorder=6,
            bbox=dict(boxstyle='round,pad=0.3', fc='white', ec='#333333', alpha=0.8))
    cx = 0.116 if col == 0 else 0.084
    ax.text(cx, 0.175, "$\\chi^2$=%.2f\nN=%d" % (chi2[i], nobs[i]), transform=ax.transAxes,
            ha='center', va='center', fontsize=9, zorder=6, linespacing=1.1,
            bbox=dict(boxstyle='square,pad=0.3', fc='white', ec='#555555'))

    if i == 13:
        ax.legend(loc='lower right', frameon=False, fontsize=9.5, handletextpad=0.8,
                  borderaxespad=0, labelspacing=0.45, bbox_to_anchor=(0.965, -0.03))

fig.savefig('out.png', dpi=100)
